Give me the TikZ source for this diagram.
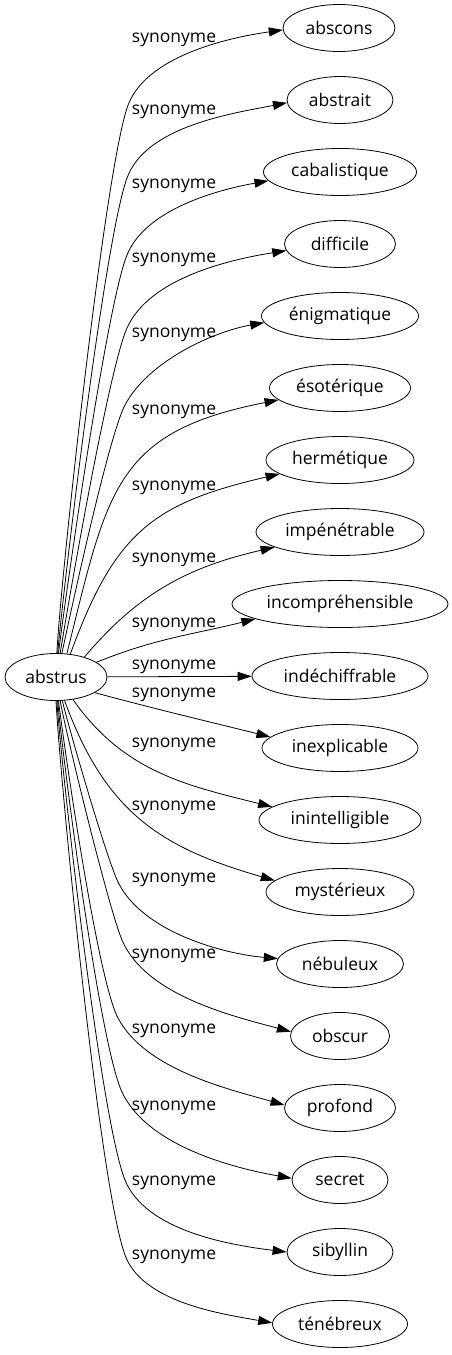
\documentclass[tikz,border=0pt]{standalone}
\usepackage{fontspec}
\setmainfont{Open Sans}
\usetikzlibrary{shapes.geometric,arrows.meta}
\begin{document}
\begin{tikzpicture}[x=1pt,y=1pt,
  every node/.style={font=\fontsize{17.5}{21}\selectfont, text=black},
  tgt/.style={ellipse, draw=black, line width=0.8pt, minimum width=#1, minimum height=47pt, inner sep=0pt},
  lbl/.style={inner sep=0pt},
  edge/.style={draw=black, line width=0.8pt, -{Triangle[length=14pt,width=9pt]}},
  ]
\useasboundingbox (0,0) rectangle (452,-1355);
\node[tgt=102pt] (a) at (56,-677) {abstrus};
\node[tgt=112pt] (n1) at (339,-28) {abscons};
\node[tgt=106pt] (n2) at (340,-100) {abstrait};
\node[tgt=153pt] (n3) at (340,-172) {cabalistique};
\node[tgt=111pt] (n4) at (340,-244) {difficile};
\node[tgt=157pt] (n5) at (340,-316) {énigmatique};
\node[tgt=141pt] (n6) at (340,-388) {ésotérique};
\node[tgt=148pt] (n7) at (340,-460) {hermétique};
\node[tgt=168pt] (n8) at (340,-532) {impénétrable};
\node[tgt=216pt] (n9) at (340,-604) {incompréhensible};
\node[tgt=176pt] (n10) at (340,-676) {indéchiffrable};
\node[tgt=156pt] (n11) at (340,-748) {inexplicable};
\node[tgt=162pt] (n12) at (340,-820) {inintelligible};
\node[tgt=148pt] (n13) at (340,-892) {mystérieux};
\node[tgt=127pt] (n14) at (340,-964) {nébuleux};
\node[tgt=99pt] (n15) at (340,-1036) {obscur};
\node[tgt=111pt] (n16) at (340,-1108) {profond};
\node[tgt=96pt] (n17) at (340,-1180) {secret};
\node[tgt=106pt] (n18) at (340,-1252) {sibyllin};
\node[tgt=135pt] (n19) at (340,-1324) {ténébreux};

\foreach \i/\y in {1/40,2/112,3/186,4/260,5/335,6/412,7/488,8/560,9/625,10/667,11/695,12/745,13/808,14/880,15/956,16/1031,17/1108,18/1183,19/1257}
  \node[lbl] (l\i) at (174,-\y) {synonyme};

\draw[edge] (a.88) to[out=87,in=252,looseness=0.35] (127,-108) to[out=72,in=188,looseness=0.8] (n1.182);
\draw[edge] (a.86) to[out=85,in=250,looseness=0.35] (127,-178) to[out=70,in=191,looseness=0.8] (n2.183);
\draw[edge] (a.84) to[out=83,in=248,looseness=0.35] (127,-255) to[out=68,in=190,looseness=0.8] (n3.187);
\draw[edge] (a.80) to[out=81,in=246,looseness=0.35] (127,-328) to[out=66,in=189,looseness=0.8] (n4.187);
\draw[edge] (a.76) to[out=78,in=242,looseness=0.35] (125,-405) to[out=62,in=190,looseness=0.8] (n5.185);
\draw[edge] (a.65) to[out=76,in=191,looseness=1.3] (n6.191);
\draw[edge] (a.58) to[out=70,in=193,looseness=1.2] (n7.193);
\draw[edge] (a.35) to[out=50,in=193] (n8.193);
\draw[edge] (a.20) to[out=22,in=194] (n9.190);
\draw[edge] (a) -- (n10);
\draw[edge] (a.-22) to[out=-15,in=166] (n11.171);
\draw[edge] (a.-53) to[out=-55,in=166] (n12.169);
\draw[edge] (a.-70) to[out=-70,in=164,looseness=1.1] (n13.170);
\draw[edge] (a.-75) to[out=-77,in=116,looseness=0.35] (118,-882) to[out=-64,in=175,looseness=0.8] (n14.175);
\draw[edge] (a.-80) to[out=-80,in=113,looseness=0.35] (122,-940) to[out=-67,in=165,looseness=0.8] (n15.175);
\draw[edge] (a.-84) to[out=-83,in=118,looseness=0.35] (118,-1018) to[out=-62,in=164,looseness=0.8] (n16.177);
\draw[edge] (a.-86) to[out=-85,in=115,looseness=0.35] (122,-1092) to[out=-65,in=170,looseness=0.8] (n17.178);
\draw[edge] (a.-88) to[out=-86,in=112,looseness=0.35] (125,-1180) to[out=-68,in=173,looseness=0.8] (n18.180);
\draw[edge] (a.-90) to[out=-87,in=110,looseness=0.35] (125,-1255) to[out=-70,in=170,looseness=0.8] (n19.179);
\end{tikzpicture}
\end{document}
